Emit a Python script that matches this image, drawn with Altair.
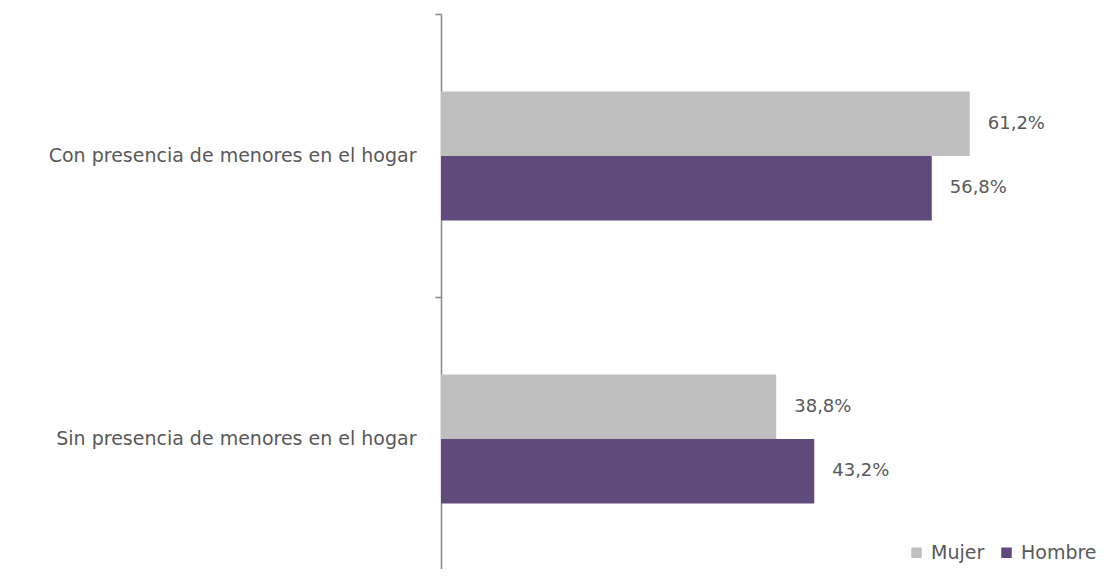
import altair as alt
import pandas as pd

categories = ["Con presencia de menores en el hogar", "Sin presencia de menores en el hogar"]
sexes = ["Mujer", "Hombre"]
mujer_values = [61.2, 38.8]
hombre_values = [56.8, 43.2]
colors = ["#BFBFBF", "#604A7B"]

rows = []
for i, cat in enumerate(categories):
    for sex, vals in (("Mujer", mujer_values), ("Hombre", hombre_values)):
        v = vals[i]
        rows.append({"cat": cat, "sex": sex, "value": v,
                     "label": f"{v:.1f}".replace(".", ",") + "%"})
df = pd.DataFrame(rows)

FONT = "DejaVu Sans"
TXT = "#595959"
FS = 18
FS_AX = 19

y_enc = alt.Y("cat:N", sort=categories, title=None,
              scale=alt.Scale(range=[0, 566], paddingInner=0, paddingOuter=0),
              axis=alt.Axis(labelFont=FONT, labelFontSize=FS_AX, labelColor=TXT,
                            domainColor="#868686", domainWidth=1.5,
                            tickColor="#868686", tickWidth=1.5, tickSize=6,
                            tickBand="extent", labelPadding=19, labelLimit=500,
                            grid=False))
yoff_enc = alt.YOffset("sex:N", sort=sexes,
                       scale=alt.Scale(range=[77.5, 206.5], paddingInner=0, paddingOuter=0))
x_enc = alt.X("value:Q", axis=None, scale=alt.Scale(domain=[0, 77.2], nice=False))

bars = alt.Chart(df).mark_bar().encode(
    y=y_enc, yOffset=yoff_enc, x=x_enc,
    color=alt.Color("sex:N", sort=sexes,
                    scale=alt.Scale(domain=sexes, range=colors),
                    legend=alt.Legend(title=None, orient="none", direction="horizontal",
                                      legendX=466, legendY=529,
                                      symbolType="square", symbolSize=110,
                                      symbolStrokeWidth=0, labelFont=FONT,
                                      labelFontSize=FS_AX, labelColor=TXT,
                                      labelOffset=5, columnPadding=12, padding=0)),
)

labels = alt.Chart(df).mark_text(align="left", baseline="middle", dx=18,
                                 font=FONT, fontSize=FS, color=TXT).encode(
    y=alt.Y("cat:N", sort=categories), yOffset=alt.YOffset("sex:N", sort=sexes),
    x="value:Q", text="label:N",
)

chart = alt.layer(bars, labels).properties(
    width=667, height=555,
    padding={"left": 433, "top": 6, "right": 0, "bottom": 0},
    autosize=alt.AutoSizeParams(type="none"),
    background="white",
).configure_view(stroke=None, strokeWidth=0)

chart.save("out.html", embed_options={"renderer": "svg", "actions": False})
